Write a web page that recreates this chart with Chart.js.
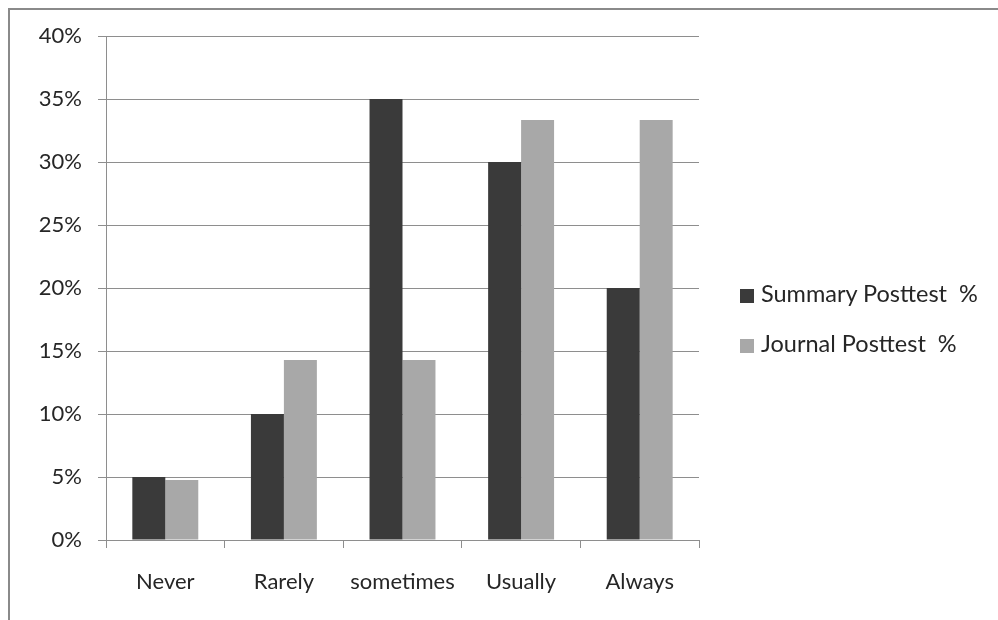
<!DOCTYPE html>
<html lang="en">

<head>
    <meta charset="UTF-8">
    <title>Posttest chart</title>
    <script src="https://cdn.jsdelivr.net/npm/chart.js@4.4.1/dist/chart.umd.min.js"></script>
    <style>
        html, body {
            margin: 0;
            padding: 0;
            background: #fff;
        }
        .frame {
            position: absolute;
            left: 8px;
            top: 8px;
            width: 990px;
            height: 612px;
            border-left: 2px solid #8a8a8a;
            border-top: 2px solid #8a8a8a;
            box-sizing: border-box;
        }
        .graph-container {
            position: absolute;
            left: 0;
            top: 0;
            width: 998px;
            height: 620px;
        }
        .legend {
            position: absolute;
            left: 740px;
            top: 278px;
            font-family: Lato, sans-serif;
            font-size: 23.5px;
            color: #262626;
        }
        .legend div {
            height: 30px;
            line-height: 30px;
            margin-bottom: 20px;
            white-space: pre;
        }
        .legend span {
            display: inline-block;
            width: 14px;
            height: 14px;
            margin-right: 7px;
            vertical-align: -1px;
        }
    </style>
</head>

<body>
    <div class="frame"></div>
    <div class="graph-container">
        <canvas id="myChart"></canvas>
    </div>
    <div class="legend" id="legend"></div>

    <script>
        // データ
        const categories = ['Never', 'Rarely', 'sometimes', 'Usually', 'Always'];
        const summaryPosttest = [5, 10, 35, 30, 20];
        const journalPosttest = [4.76, 14.29, 14.29, 33.33, 33.33];
        const seriesNames = ['Summary Posttest  %', 'Journal Posttest  %'];
        const seriesColors = ['#3a3a3a', '#a8a8a8'];

        const ctx = document.getElementById('myChart').getContext('2d');
        const tickFont = { family: 'Lato, sans-serif', size: 22 };

        const chart = new Chart(ctx, {
            type: 'bar',
            data: {
                labels: categories,
                datasets: [{
                    label: seriesNames[0],
                    data: summaryPosttest,
                    backgroundColor: seriesColors[0]
                }, {
                    label: seriesNames[1],
                    data: journalPosttest,
                    backgroundColor: seriesColors[1]
                }]
            },
            options: {
                responsive: true,
                maintainAspectRatio: false,
                animation: false,
                layout: {
                    padding: { left: 10, right: 299, top: 36, bottom: 0 }
                },
                plugins: {
                    legend: { display: false },
                    tooltip: { enabled: false }
                },
                datasets: {
                    bar: {
                        categoryPercentage: 0.556,
                        barPercentage: 1.0
                    }
                },
                scales: {
                    x: {
                        grid: {
                            drawOnChartArea: false,
                            drawTicks: true,
                            tickLength: 8,
                            color: '#8e8e8e'
                        },
                        border: { color: '#8e8e8e' },
                        ticks: {
                            font: tickFont,
                            color: '#262626',
                            padding: 21
                        },
                        afterFit: (scale) => { scale.height = 80; }
                    },
                    y: {
                        min: 0,
                        max: 40,
                        grid: {
                            color: '#8e8e8e',
                            tickLength: 8
                        },
                        border: { color: '#8e8e8e' },
                        ticks: {
                            stepSize: 5,
                            font: tickFont,
                            color: '#262626',
                            padding: 16,
                            callback: (v) => v + '%'
                        },
                        afterFit: (scale) => { scale.width = 96; }
                    }
                }
            }
        });

        // 凡例
        const legend = document.getElementById('legend');
        seriesNames.forEach((name, i) => {
            const row = document.createElement('div');
            const box = document.createElement('span');
            box.style.background = seriesColors[i];
            row.appendChild(box);
            row.appendChild(document.createTextNode(name));
            legend.appendChild(row);
        });
    </script>
</body>

</html>
